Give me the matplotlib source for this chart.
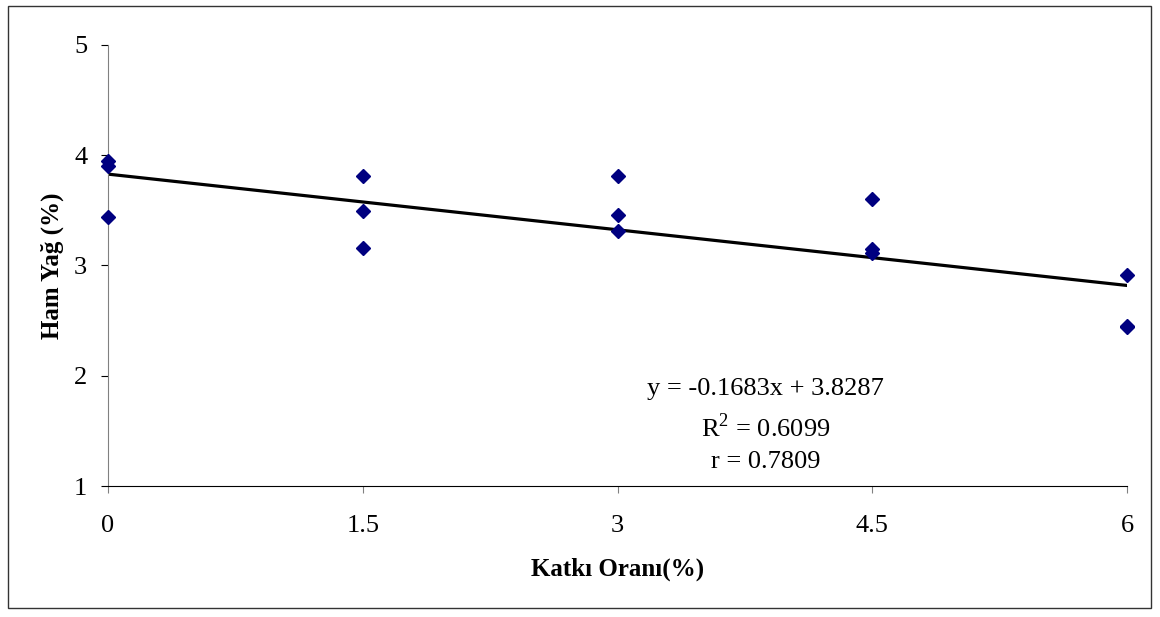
import matplotlib
matplotlib.use("Agg")
import matplotlib.pyplot as plt
from matplotlib.patches import Rectangle

plt.rcParams['font.family'] = ['Liberation Serif', 'DejaVu Serif']
plt.rcParams['mathtext.fontset'] = 'custom'
plt.rcParams['mathtext.rm'] = 'Liberation Serif'

# katki orani (%) and ham yag (%) values
katki = [0, 0, 0, 1.5, 1.5, 1.5, 3, 3, 3, 4.5, 4.5, 4.5, 6, 6, 6]
ham_yag = [3.95, 3.90, 3.44, 3.81, 3.49, 3.16, 3.81, 3.46, 3.31,
           3.60, 3.15, 3.11, 2.91, 2.45, 2.44]

slope = -0.1683
intercept = 3.8287
r2 = 0.6099
r = 0.7809

x_ticks = [0, 1.5, 3, 4.5, 6]
x_tick_labels = ["0", "1.5", "3", "4.5", "6"]
y_ticks = [1, 2, 3, 4, 5]

fig = plt.figure(figsize=(11.6, 6.17), dpi=100)
ax = fig.add_axes([0.0931, 0.2123, 0.8785, 0.7148])

fit_x = [0, 6]
fit_y = [intercept + slope * v for v in fit_x]
ax.plot(fit_x, fit_y, color="black", lw=2.3, zorder=2)
ax.plot(katki, ham_yag, linestyle="none", marker="D", color="#000080",
        markersize=7, zorder=3, clip_on=False)

ax.set_xlim(0, 6)
ax.set_ylim(1, 5)
ax.set_xticks(x_ticks)
ax.set_xticklabels(x_tick_labels)
ax.set_yticks(y_ticks)

for s in ["top", "right"]:
    ax.spines[s].set_visible(False)
ax.spines["left"].set_color("#808080")
ax.spines["bottom"].set_color("black")
ax.tick_params(axis="y", direction="out", length=5, color="black", labelsize=19, pad=10)
ax.tick_params(axis="x", direction="out", length=5, color="#808080", labelsize=19, pad=16)

ax.set_xlabel("Katkı Oranı(%)", fontsize=18, fontweight="bold", labelpad=15)
ax.set_ylabel("Ham Yağ (%)", fontsize=18, fontweight="bold", labelpad=7)

eq_x = 3.87
ax.text(eq_x, 1.825, "y = -0.1683x + 3.8287", ha="center", va="baseline", fontsize=19)
ax.text(eq_x, 1.444, "R$^{2}$ = %.4f" % r2, ha="center", va="baseline", fontsize=19)
ax.text(eq_x, 1.163, "r = %.4f" % r, ha="center", va="baseline", fontsize=19)

fig.patches.append(Rectangle((8 / 1160, 1 - 608 / 617), 1143 / 1160, 602 / 617,
                             transform=fig.transFigure, fill=False,
                             edgecolor="#333333", lw=1))

fig.savefig("out.png", dpi=100)
